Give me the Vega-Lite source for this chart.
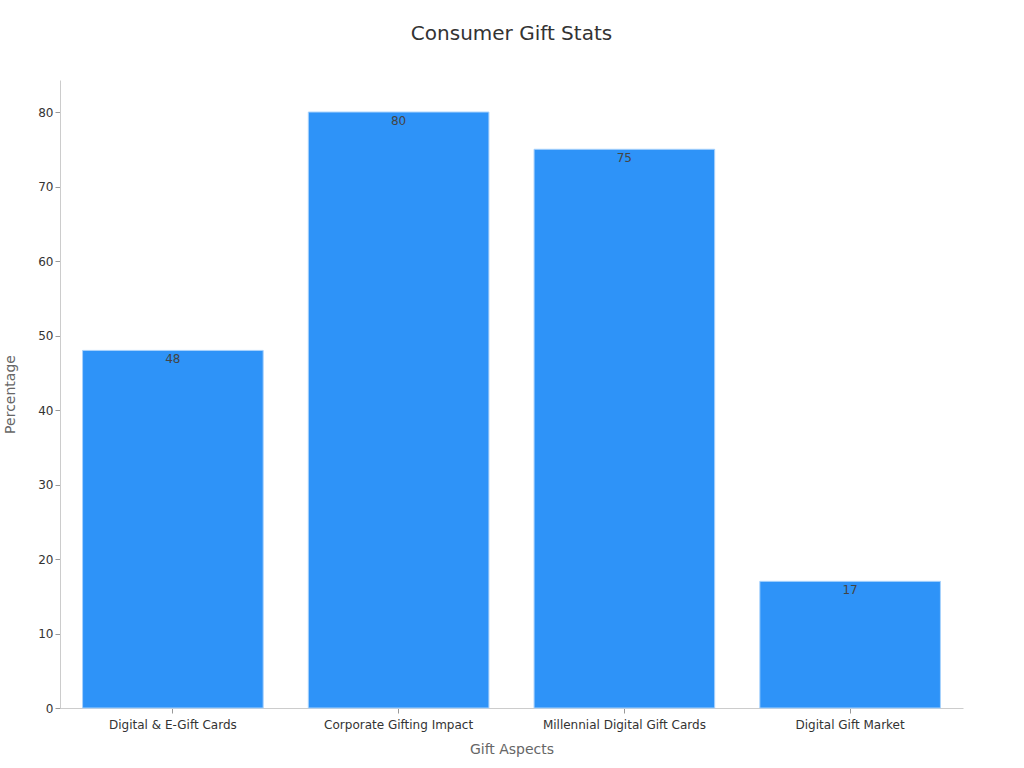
{
  "$schema": "https://vega.github.io/schema/vega-lite/v6.json",
  "width": 903,
  "height": 628,
  "autosize": "none",
  "padding": {"left": 60, "top": 80, "right": 61, "bottom": 60},
  "background": "white",
  "title": {"text": "Consumer Gift Stats", "fontSize": 20, "font": "DejaVu Sans", "fontWeight": "normal", "color": "#333333", "anchor": "middle", "offset": 36},
  "config": {
    "view": {"stroke": null},
    "font": "DejaVu Sans"
  },
  "data": {"values": [
    {"aspect": "Digital & E-Gift Cards", "value": 48},
    {"aspect": "Corporate Gifting Impact", "value": 80},
    {"aspect": "Millennial Digital Gift Cards", "value": 75},
    {"aspect": "Digital Gift Market", "value": 17}
  ]},
  "encoding": {
    "x": {"field": "aspect", "type": "nominal", "sort": null,
      "scale": {"paddingInner": 0.2, "paddingOuter": 0.1},
      "axis": {"title": "Gift Aspects", "labelAngle": 0, "labelFontSize": 12, "labelColor": "#333333", "titleFontSize": 14, "titleColor": "#666666", "titleFontWeight": "normal", "titlePadding": 12, "domainColor": "#cccccc", "tickColor": "#999999", "labelPadding": 6, "grid": false}},
    "y": {"field": "value", "type": "quantitative",
      "scale": {"domain": [0, 84.3], "nice": false},
      "axis": {"title": "Percentage", "values": [0,10,20,30,40,50,60,70,80], "labelFontSize": 12, "labelColor": "#333333", "titleFontSize": 14, "titleColor": "#666666", "titleFontWeight": "normal", "titlePadding": 20, "domainColor": "#cccccc", "tickColor": "#999999", "grid": false}}
  },
  "layer": [
    {"mark": {"type": "bar", "color": "#2E93F8", "stroke": "#a8d2fc", "strokeWidth": 1}},
    {"mark": {"type": "text", "baseline": "top", "dy": 4, "fontSize": 12, "color": "#444444"},
     "encoding": {"text": {"field": "value", "type": "quantitative"}}}
  ]
}
